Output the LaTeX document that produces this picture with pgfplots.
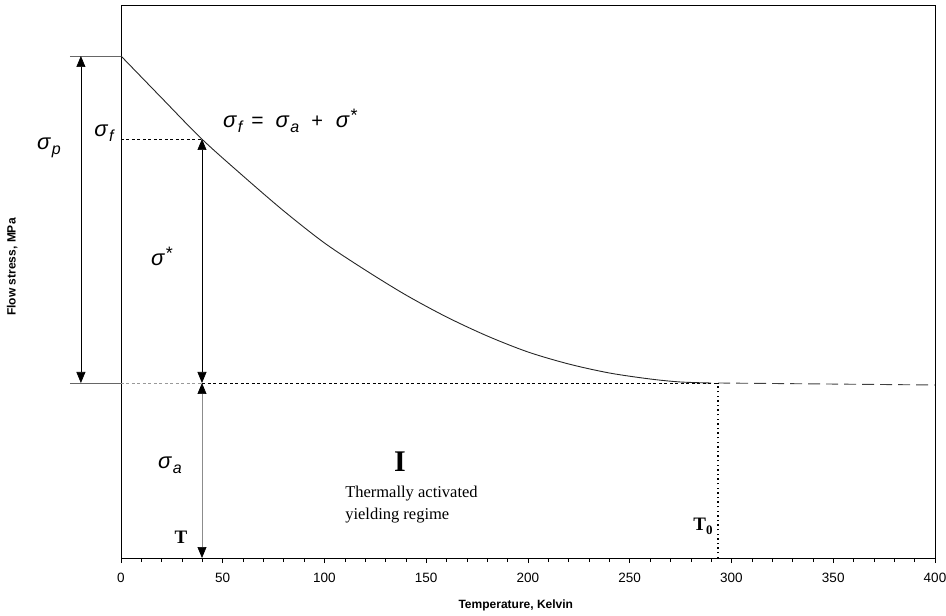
\documentclass[border=0pt]{standalone}
\usepackage{fontspec}
\setmainfont{Liberation Sans}
\newfontfamily\serif{Liberation Serif}
\usepackage{pgfplots}
\pgfplotsset{compat=1.18}
\usetikzlibrary{arrows.meta}
\newcommand{\sig}[1]{{\fontsize{22}{22}\selectfont\itshape σ}\hspace{1.5pt}\raisebox{-5pt}{\fontsize{16}{16}\selectfont\itshape #1}}
\newcommand{\sigstar}{{\fontsize{22}{22}\selectfont\itshape σ}\hspace{1.5pt}\raisebox{6pt}{\fontsize{18}{18}\selectfont *}}
\pgfplotstableread{
T S
0 502
20 460
39.7 419
60 382
80 347
100 315
120 288
140 263
160 241
180 222
200 206
220 194
240 185
260 179
275 176
290 175
}\curve
\begin{document}
\begin{tikzpicture}
\useasboundingbox (-121pt,-58pt) rectangle (825pt,558pt);
\begin{axis}[
  scale only axis, width=814pt, height=553pt,
  xmin=0, xmax=400, ymin=0, ymax=553,
  xtick={0,50,...,400}, minor x tick num=4,
  ytick=\empty, xtick pos=left, tick align=outside,
  major tick length=5pt, minor tick length=4pt,
  tick style={black, line width=0.6pt},
  axis line style={line width=0.8pt},
  every x tick label/.style={font=\fontsize{13.5}{13.5}\selectfont, yshift=-7pt},
  /pgf/number format/assume math mode=true,
  clip=false,
]
\addplot[black!85, line width=0.9pt, smooth] table[x=T,y=S]{\curve};
% sigma_a level, short dashes
\addplot[black, line width=0.7pt, dash pattern=on 3pt off 2.5pt] coordinates {(40,175) (293.4,175)};
\addplot[black!40, line width=0.7pt, dash pattern=on 3pt off 2.5pt] coordinates {(0,175) (40,175)};
% continuation long dashes
\addplot[black!75, line width=0.9pt, dash pattern=on 12pt off 6pt] coordinates {(293.4,175) (400,173)};
% sigma_f dashed level
\addplot[black, line width=0.7pt, dash pattern=on 3pt off 2.5pt] coordinates {(0,419) (39.7,419)};
% T0 dotted
\addplot[black, line width=1.4pt, dash pattern=on 1.4pt off 3.2pt] coordinates {(293.4,0) (293.4,175)};
% left gray lines
\addplot[black!60, line width=0.7pt] coordinates {(-25.1,502) (0,502)};
\addplot[black!60, line width=0.7pt] coordinates {(-25.1,175) (0,175)};
% arrows
\draw[black, line width=0.7pt, {Triangle[width=9pt,length=11pt]}-{Triangle[width=9pt,length=11pt]}] (axis cs:-19.7,502) -- (axis cs:-19.7,175);
\draw[black, line width=0.7pt, {Triangle[width=9pt,length=11pt]}-{Triangle[width=9pt,length=11pt]}] (axis cs:39.8,419) -- (axis cs:39.8,175);
\draw[black!45, line width=0.7pt, {Triangle[width=9pt,length=11pt,color=black]}-{Triangle[width=9pt,length=11pt,color=black]}] (axis cs:39.8,175) -- (axis cs:39.8,0);
% labels
\node at (axis cs:-35.4,410) {\sig{p}};
\node at (axis cs:-8.4,425) {\sig{f}};
\node at (axis cs:20.1,302) {\sigstar};
\node at (axis cs:24.1,93) {\sig{a}};
\node at (axis cs:29.5,21) {\serif\bfseries\fontsize{19}{20}\selectfont T};
\node at (axis cs:286,32) {\serif\bfseries\fontsize{19}{20}\selectfont T\raisebox{-4pt}{\fontsize{13}{13}\selectfont 0}};
\node at (axis cs:137.1,96) {\serif\bfseries\fontsize{30}{30}\selectfont I};
\node[anchor=west, align=left, inner sep=0pt, font=\serif\fontsize{16.5}{22}\selectfont] at (axis cs:110.1,53) {Thermally activated\\yielding regime};
\node[anchor=west, inner sep=0pt] at (axis cs:50.1,437) {\sig{f}\hspace{9pt}{\fontsize{21}{21}\selectfont =}\hspace{12pt}\sig{a}\hspace{12pt}{\fontsize{20}{20}\selectfont +}\hspace{13pt}\sigstar};
\node[font=\bfseries\fontsize{12}{12}\selectfont] at (axis cs:194,-47) {Temperature, Kelvin};
\node[rotate=90, font=\bfseries\fontsize{12}{12}\selectfont] at (axis cs:-53.5,291) {Flow stress, MPa};
\end{axis}
\end{tikzpicture}
\end{document}
